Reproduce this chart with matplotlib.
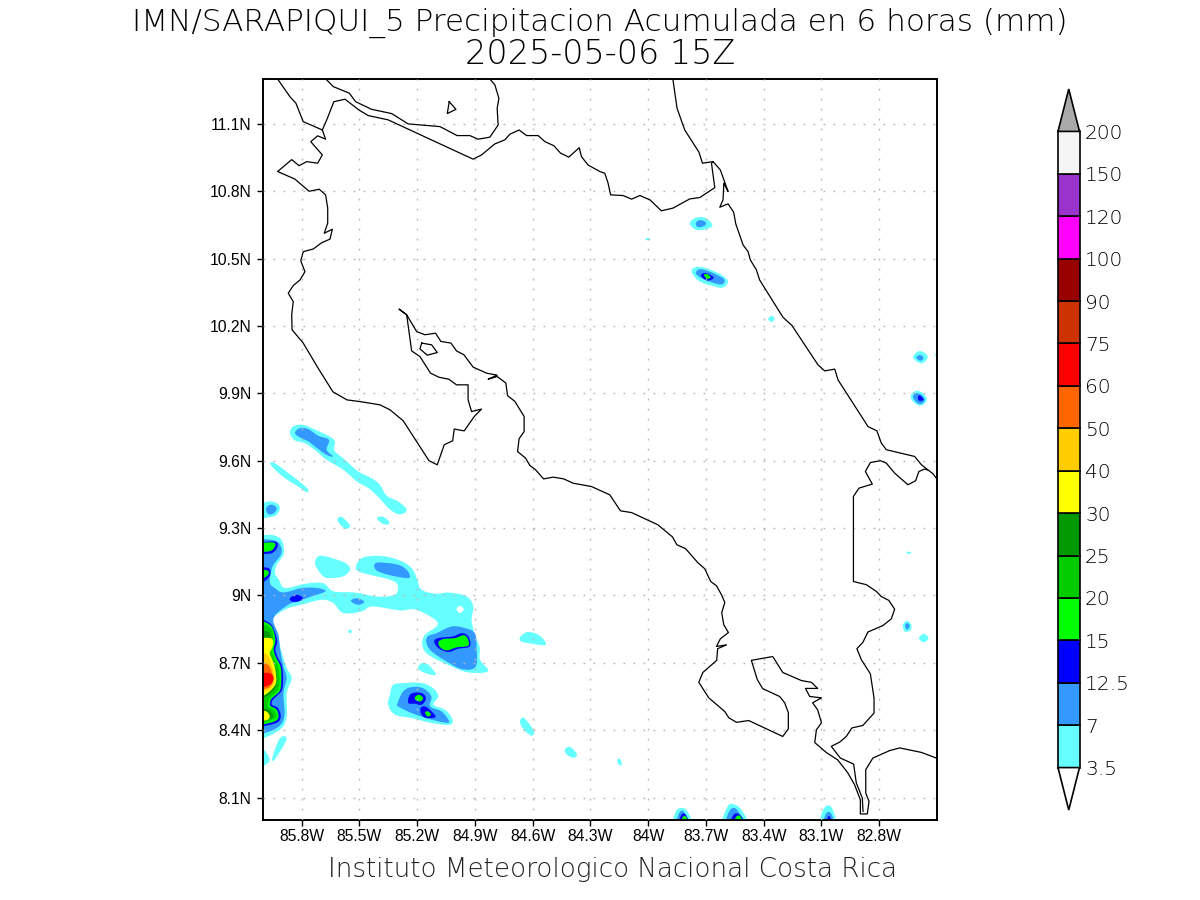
import numpy as np
from matplotlib import pyplot as plt

# everything in degrees west / degrees north
coast_pacific = [(85.921,11.296),(85.860,11.221),(85.829,11.192),(85.791,11.110),(85.692,11.073),(85.675,11.032),(85.716,11.047),(85.752,11.021),
    (85.692,10.962),(85.716,10.925),(85.773,10.932),(85.813,10.914),(85.851,10.941),(85.924,10.888),(85.834,10.854),(85.761,10.800),(85.708,10.809),
    (85.675,10.784),(85.664,10.725),(85.664,10.658),(85.682,10.613),(85.640,10.631),(85.652,10.587),(85.695,10.571),(85.739,10.543),(85.791,10.531),
    (85.804,10.490),(85.782,10.442),(85.808,10.405),(85.843,10.380),(85.869,10.346),(85.843,10.309),(85.851,10.250),(85.849,10.183),(85.792,10.125),
    (85.715,10.014),(85.637,9.907),(85.564,9.871),(85.486,9.862),(85.393,9.849),(85.341,9.827),(85.272,9.778),(85.138,9.600),(85.095,9.582),
    (85.059,9.671),(85.015,9.689),(85.007,9.741),(84.955,9.733),(84.903,9.797),(84.865,9.830),(84.917,9.819),(84.935,9.871),(84.935,9.938),
    (84.995,9.938),(85.035,9.963),(85.087,9.972),(85.130,9.990),(85.185,10.064),(85.228,10.089),(85.254,10.250),(85.293,10.275),(85.254,10.250),
    (85.202,10.175),(85.159,10.161),(85.104,10.168),(85.076,10.131),(85.024,10.124),(84.995,10.089),(84.957,10.072),(84.909,10.017),(84.839,9.990),
    (84.784,9.981),(84.831,9.963),(84.784,9.975),(84.739,9.946),(84.730,9.890),(84.692,9.864),(84.644,9.797),(84.644,9.730),(84.670,9.698),
    (84.678,9.641),(84.637,9.612),(84.614,9.579),(84.585,9.560),(84.543,9.519),(84.493,9.527),(84.438,9.519),(84.390,9.500),(84.294,9.485),
    (84.199,9.448),(84.144,9.377),(84.086,9.369),(83.950,9.315),(83.874,9.261),(83.851,9.226),(83.805,9.208),(83.742,9.146),(83.706,9.119),
    (83.675,9.062),(83.645,9.043),(83.619,9.003),(83.602,8.969),(83.618,8.923),(83.607,8.869),(83.583,8.835),(83.625,8.807),(83.645,8.773),
    (83.593,8.780),(83.639,8.763),(83.644,8.711),(83.716,8.657),(83.737,8.613),(83.685,8.544),(83.602,8.483),(83.581,8.455),(83.541,8.435),
    (83.478,8.443),(83.301,8.372),(83.272,8.406),(83.272,8.478),(83.291,8.522),(83.317,8.550),(83.405,8.585),(83.433,8.625),(83.464,8.711),
    (83.353,8.728),(83.301,8.657),(83.204,8.621),(83.152,8.613),(83.120,8.586),(83.183,8.586),(83.161,8.550),(83.100,8.544),(83.146,8.522),
    (83.120,8.491),(83.100,8.433),(83.126,8.402),(83.135,8.345),(83.074,8.300),(83.016,8.268),(82.964,8.211),(82.928,8.157),(82.898,8.090),
    (82.898,8.027),(82.862,8.027),(82.853,8.083),(82.870,8.120),(82.870,8.224),(82.833,8.276),(82.746,8.309),(82.694,8.321),(82.581,8.301),(82.504,8.276)]

border_north = [(85.692,11.073),(85.669,11.118),(85.632,11.199),(85.574,11.210),(85.502,11.162),(85.453,11.137),(85.350,11.118),(84.909,10.943),
    (84.865,10.962),(84.796,11.011),(84.744,11.029),(84.718,11.054),(84.670,11.073),(84.631,11.048),(84.571,11.048),(84.536,11.021),(84.490,11.003),
    (84.455,10.970),(84.412,10.952),(84.358,10.994),(84.346,10.954),(84.312,10.917),(84.251,10.888),(84.225,10.880),(84.208,10.836),(84.195,10.784),
    (84.130,10.781),(84.086,10.765),(84.043,10.781),(83.991,10.762),(83.931,10.713),(83.871,10.725),(83.784,10.766),(83.732,10.772),(83.654,10.816),
    (83.671,10.925),(83.663,10.932)]

coast_caribbean = [(83.871,11.296),(83.850,11.170),(83.810,11.073),(83.736,10.974),(83.718,10.925),(83.663,10.932),(83.625,10.895),(83.585,10.799),
    (83.607,10.836),(83.611,10.762),(83.628,10.729),(83.585,10.744),(83.556,10.707),(83.545,10.655),(83.507,10.561),(83.481,10.531),(83.469,10.494),
    (83.438,10.450),(83.421,10.405),(83.300,10.239),(83.253,10.202),(83.118,10.027),(83.083,10.000),(83.031,10.008),(83.014,9.960),(82.858,9.752),
    (82.812,9.733),(82.789,9.678),(82.763,9.649),(82.616,9.619),(82.581,9.582),(82.521,9.542),(82.504,9.523)]

border_south = [(82.549,9.559),(82.564,9.563),(82.594,9.552),(82.611,9.511),(82.651,9.493),(82.720,9.545),(82.763,9.589),(82.793,9.600),(82.846,9.592),
    (82.872,9.552),(82.836,9.496),(82.905,9.478),(82.934,9.441),(82.934,9.062),(82.867,9.048),(82.815,9.018),(82.789,8.995),(82.750,8.978),(82.720,8.939),
    (82.737,8.896),(82.781,8.866),(82.859,8.837),(82.885,8.791),(82.916,8.763),(82.893,8.714),(82.846,8.651),(82.827,8.543),(82.827,8.476),(82.885,8.421),
    (82.942,8.410),(82.971,8.372),(83.005,8.347),(83.049,8.328),(83.002,8.276),(82.933,8.249),(82.919,8.165),(82.888,8.098),(82.884,8.038)]

lake_nicaragua = [(85.669,11.296),(85.635,11.266),(85.552,11.237),(85.519,11.199),(85.436,11.165),(85.332,11.146),(85.246,11.100),(85.081,11.088),
    (84.992,11.048),(84.926,11.048),(84.883,11.032),(84.822,11.041),(84.779,11.095),(84.784,11.170),(84.775,11.214),(84.796,11.274),(84.818,11.296)]
island_lake = [(85.033,11.199),(84.998,11.165),(85.043,11.146),(85.033,11.199)]
island_gulf = [(85.176,10.124),(85.124,10.116),(85.095,10.082),(85.147,10.070),(85.185,10.098),(85.176,10.124)]
coast_lines = [coast_pacific, border_north, coast_caribbean, border_south, lake_nicaragua, island_lake, island_gulf]

# 3.5 - 7 mm
rain_3p5 = [
    [(85.860,9.723),(85.843,9.753),(85.791,9.760),(85.721,9.735),(85.661,9.711),(85.626,9.686),(85.630,9.646),(85.574,9.604),(85.505,9.552),(85.436,9.522),
     (85.393,9.493),(85.358,9.444),(85.298,9.419),(85.254,9.384),(85.272,9.364),(85.306,9.364),(85.349,9.389),(85.401,9.438),(85.453,9.478),(85.514,9.508),
     (85.583,9.560),(85.670,9.604),(85.721,9.641),(85.782,9.678),(85.834,9.690)],
    [(85.964,9.589),(85.938,9.589),(85.868,9.545),(85.799,9.500),(85.765,9.471),(85.773,9.460),(85.817,9.485),(85.886,9.522),(85.938,9.560)],
    [(86.03,9.404),(85.972,9.419),(85.929,9.411),(85.912,9.389),(85.929,9.359),(85.964,9.349),(86.03,9.340)],
    [(85.612,9.344),(85.588,9.349),(85.548,9.310),(85.571,9.297),(85.606,9.322)],
    [(85.408,9.344),(85.381,9.352),(85.346,9.330),(85.353,9.315),(85.384,9.322)],
    [(86.03,9.266),(85.955,9.270),(85.912,9.255),(85.894,9.226),(85.894,9.181),(85.929,9.137),(85.938,9.100),(85.917,9.070),(85.886,9.033),(85.782,9.052),
     (85.687,9.055),(85.635,9.018),(85.523,9.013),(85.419,8.996),(85.350,8.996),(85.306,9.010),(85.301,9.048),(85.341,9.070),(85.445,9.092),(85.505,9.107),
     (85.517,9.129),(85.488,9.166),(85.401,9.177),(85.298,9.159),(85.228,9.122),(85.199,9.070),(85.177,9.025),(85.099,9.007),(85.038,9.013),(84.943,8.996),
     (84.908,8.951),(84.917,8.892),(84.900,8.825),(84.874,8.766),(84.874,8.714),(84.830,8.662),(84.934,8.657),(85.021,8.684),(85.142,8.736),(85.173,8.780),
     (85.159,8.825),(85.090,8.877),(85.202,8.936),(85.280,8.933),(85.332,8.939),(85.436,8.951),(85.488,8.929),(85.583,8.921),(85.635,8.966),(85.696,8.981),
     (85.799,8.959),(85.868,8.944),(85.929,8.914),(85.955,8.884),(85.924,8.832),(85.907,8.758),(85.877,8.677),(85.851,8.632),(85.877,8.565),(85.877,8.461),
     (85.912,8.402),(86.03,8.354)],
    [(85.730,9.151),(85.704,9.177),(85.626,9.162),(85.566,9.141),(85.548,9.114),(85.583,9.085),(85.652,9.077),(85.687,9.085),(85.721,9.122)],
    [(85.194,8.681),(85.177,8.699),(85.151,8.696),(85.125,8.677),(85.102,8.647),(85.142,8.650),(85.185,8.666)],
    [(85.324,8.602),(85.263,8.610),(85.177,8.610),(85.116,8.587),(85.090,8.550),(85.116,8.513),(85.055,8.491),(85.017,8.450),(85.029,8.424),(85.125,8.432),
     (85.228,8.454),(85.315,8.469),(85.350,8.513),(85.341,8.558)],
    [(85.912,8.365),(85.877,8.360),(85.938,8.271),(85.952,8.276)],
    [(86.03,8.342),(85.964,8.268),(86.03,8.231)],
    [(85.555,8.846),(85.541,8.846),(85.541,8.834),(85.555,8.834)],
    [(84.666,8.812),(84.625,8.838),(84.562,8.820),(84.531,8.780),(84.604,8.785),(84.656,8.794)],
    [(84.666,8.438),(84.645,8.455),(84.594,8.398),(84.604,8.375),(84.645,8.402)],
    [(84.433,8.313),(84.407,8.326),(84.370,8.295),(84.386,8.277),(84.422,8.291)],
    [(84.161,8.268),(84.144,8.271),(84.137,8.246),(84.151,8.246)],
    [(83.784,10.655),(83.758,10.680),(83.706,10.683),(83.666,10.650),(83.697,10.632),(83.749,10.628)],
    [(84.012,10.591),(83.992,10.591),(83.992,10.583),(84.012,10.583)],
    [(83.775,10.442),(83.749,10.463),(83.697,10.457),(83.620,10.428),(83.585,10.398),(83.611,10.371),(83.654,10.376),(83.732,10.398)],
    [(83.377,10.232),(83.360,10.245),(83.343,10.232),(83.360,10.218)],
    [(82.625,10.060),(82.590,10.089),(82.547,10.064),(82.581,10.033)],
    [(82.512,10.071),(82.48,10.083),(82.48,10.060)],
    [(82.637,9.886),(82.611,9.911),(82.573,9.901),(82.552,9.871),(82.581,9.846),(82.616,9.856)],
    [(82.656,9.194),(82.637,9.194),(82.637,9.187),(82.656,9.187)],
    [(82.677,8.869),(82.656,8.887),(82.633,8.869),(82.639,8.844),(82.668,8.840)],
    [(82.594,8.810),(82.569,8.829),(82.544,8.810),(82.569,8.791)],
    [(83.867,7.98),(83.853,8.043),(83.818,8.053),(83.793,8.034),(83.774,7.98)],
    [(83.611,7.98),(83.585,8.064),(83.550,8.068),(83.516,8.046),(83.485,7.98)],
    [(83.104,7.98),(83.095,8.038),(83.071,8.064),(83.045,8.053),(83.026,7.98)],
]
rain_hole = [(84.995,8.939),(84.978,8.954),(84.957,8.939),(84.978,8.921)]

# 7 - 12.5 mm
rain_7 = [
    [(85.834,9.726),(85.808,9.745),(85.765,9.741),(85.713,9.711),(85.657,9.693),(85.670,9.649),(85.635,9.619),(85.670,9.626),(85.713,9.652),(85.765,9.686),(85.817,9.708)],
    [(85.984,9.389),(85.964,9.404),(85.938,9.399),(85.929,9.381),(85.952,9.362),(85.976,9.364)],
    [(85.422,9.137),(85.393,9.147),(85.298,9.137),(85.254,9.114),(85.237,9.088),(85.254,9.077),(85.350,9.092),(85.410,9.111)],
    [(85.543,8.978),(85.514,8.988),(85.474,8.973),(85.497,8.959),(85.526,8.963)],
    [(86.03,9.251),(85.938,9.245),(85.907,9.218),(85.907,9.181),(85.946,9.137),(85.959,9.100),(85.964,9.055),(85.938,9.033),(85.894,9.013),(85.799,9.033),
     (85.713,9.033),(85.675,9.018),(85.747,8.996),(85.817,8.973),(85.868,8.959),(85.946,8.899),(85.920,8.825),(85.912,8.766),(85.894,8.684),(85.877,8.632),
     (85.894,8.565),(85.889,8.461),(85.929,8.409),(86.03,8.380)],
    [(85.145,8.818),(85.099,8.832),(85.021,8.862),(84.952,8.855),(84.900,8.832),(84.891,8.766),(84.896,8.681),(84.969,8.672),(85.047,8.706),(85.125,8.751),(85.151,8.788)],
    [(85.272,8.573),(85.228,8.592),(85.168,8.587),(85.125,8.550),(85.133,8.506),(85.073,8.484),(85.038,8.447),(85.042,8.432),(85.125,8.447),(85.228,8.476),(85.298,8.506),(85.301,8.521)],
    [(83.753,10.658),(83.732,10.672),(83.701,10.662),(83.706,10.647),(83.741,10.640)],
    [(83.753,10.435),(83.732,10.453),(83.680,10.442),(83.607,10.410),(83.614,10.386),(83.654,10.390),(83.723,10.413)],
    [(82.608,10.060),(82.587,10.071),(82.570,10.057),(82.587,10.045)],
    [(82.625,9.886),(82.607,9.901),(82.576,9.890),(82.564,9.867),(82.587,9.852),(82.611,9.864)],
    [(82.666,8.865),(82.654,8.877),(82.642,8.865),(82.654,8.847)],
    [(83.850,7.98),(83.839,8.031),(83.815,8.038),(83.793,7.98)],
    [(83.594,7.98),(83.576,8.043),(83.542,8.049),(83.507,7.98)],
    [(83.088,7.98),(83.075,8.031),(83.049,8.028),(83.037,7.98)],
]

# 12.5 - 15 mm
rain_12p5 = [
    [(86.03,9.236),(85.938,9.240),(85.924,9.218),(85.955,9.188),(86.03,9.186)],
    [(86.03,9.126),(85.972,9.122),(85.962,9.097),(85.981,9.070),(86.03,9.048)],
    [(85.860,8.988),(85.825,9.003),(85.791,8.988),(85.817,8.973),(85.851,8.973)],
    [(86.03,8.899),(85.965,8.877),(85.940,8.840),(85.926,8.795),(85.936,8.758),(85.922,8.721),(85.901,8.684),(85.896,8.617),(85.905,8.573),(85.948,8.536),
     (85.953,8.513),(85.922,8.499),(85.908,8.461),(85.931,8.432),(86.03,8.414)],
    [(85.111,8.795),(85.090,8.810),(85.012,8.818),(84.969,8.832),(84.934,8.818),(84.926,8.773),(84.986,8.763),(85.038,8.748),(85.090,8.766)],
    [(85.237,8.558),(85.202,8.568),(85.168,8.562),(85.154,8.539),(85.177,8.513),(85.211,8.518),(85.246,8.521)],
    [(85.182,8.498),(85.159,8.506),(85.125,8.484),(85.104,8.458),(85.151,8.454),(85.177,8.469)],
    [(83.725,10.428),(83.701,10.436),(83.659,10.416),(83.689,10.402),(83.715,10.413)],
    [(82.599,9.886),(82.587,9.890),(82.569,9.871),(82.594,9.868)],
    [(83.839,7.98),(83.827,8.024),(83.805,8.024),(83.787,7.98)],
    [(83.568,7.98),(83.556,8.024),(83.524,8.024),(83.498,7.98)],
    [(83.075,7.98),(83.061,8.019),(83.045,7.98)],
]

# 15 - 20 mm
rain_15 = [
    [(86.03,9.233),(85.946,9.236),(85.938,9.218),(85.964,9.197),(86.03,9.194)],
    [(86.03,9.114),(85.976,9.111),(85.976,9.089),(86.03,9.067)],
    [(86.03,8.892),(85.965,8.870),(85.943,8.835),(85.936,8.795),(85.945,8.758),(85.931,8.721),(85.908,8.681),(85.905,8.617),(85.914,8.573),(85.957,8.539),
     (85.962,8.509),(85.931,8.494),(85.919,8.461),(85.940,8.439),(86.03,8.421)],
    [(85.090,8.791),(85.064,8.806),(85.003,8.810),(84.960,8.823),(84.938,8.810),(84.934,8.776),(84.995,8.769),(85.042,8.755),(85.076,8.766)],
    [(85.211,8.547),(85.190,8.558),(85.168,8.543),(85.182,8.528),(85.206,8.533)],
    [(85.159,8.479),(85.142,8.484),(85.128,8.469),(85.145,8.461)],
    [(83.711,10.428),(83.694,10.431),(83.675,10.417),(83.694,10.410)],
    [(83.831,7.98),(83.818,8.016),(83.801,8.012),(83.793,7.98)],
    [(83.554,7.98),(83.542,8.016),(83.521,8.016),(83.507,7.98)],
]

# 20 and up, only on the left edge
rain_20 = [[(86.03,8.877),(85.965,8.859),(85.948,8.825),(85.946,8.788),(85.957,8.758),(85.940,8.714),(85.919,8.677),(85.914,8.617),(85.922,8.580),(85.965,8.543),
            (85.974,8.506),(85.943,8.488),(85.931,8.461),(85.953,8.447),(86.03,8.429)]]
rain_25 = [[(86.03,8.840),(85.974,8.840),(85.960,8.810),(85.964,8.780),(85.974,8.751),(85.953,8.706),(85.933,8.669),(85.927,8.617),(85.940,8.583),(85.983,8.550),(86.03,8.528)],
           [(86.03,8.499),(85.971,8.491),(85.948,8.464),(85.964,8.450),(86.03,8.436)]]
rain_30 = [[(86.03,8.810),(85.960,8.810),(85.946,8.788),(85.957,8.758),(85.965,8.743),(85.948,8.706),(85.936,8.669),(85.931,8.617),(85.948,8.588),(85.988,8.558),(86.03,8.547)],
           [(86.03,8.484),(85.983,8.484),(85.965,8.459),(85.983,8.444),(86.03,8.444)]]
rain_40 = [[(86.03,8.743),(85.978,8.736),(85.957,8.691),(85.943,8.654),(85.943,8.610),(85.965,8.583),(86.03,8.562)]]
rain_50 = [[(86.03,8.706),(85.974,8.691),(85.953,8.654),(85.948,8.617),(85.974,8.588),(86.03,8.580)]]
rain_60 = [[(86.03,8.654),(85.965,8.654),(85.945,8.632),(85.965,8.602),(86.03,8.588)]]

rain_layers = [rain_3p5, [rain_hole], rain_7, rain_12p5, rain_15, rain_20, rain_25, rain_30, rain_40, rain_50, rain_60]
rain_colors = ['#66ffff', 'white', '#3399ff', '#0000ff', '#00ff00', '#00cc00', '#009900', '#ffff00', '#ffcc00', '#ff6600', '#ff0000']

bar_labels = ['3.5', '7', '12.5', '15', '20', '25', '30', '40', '50', '60', '75', '90', '100', '120', '150', '200']
bar_colors = ['#66ffff', '#3399ff', '#0000ff', '#00ff00', '#00cc00', '#009900', '#ffff00', '#ffcc00', '#ff6600', '#ff0000',
              '#cc3300', '#990000', '#ff00ff', '#9933cc', '#f5f5f5']
lon_ticks = [85.8, 85.5, 85.2, 84.9, 84.6, 84.3, 84.0, 83.7, 83.4, 83.1, 82.8]
lon_labels = ['85.8W', '85.5W', '85.2W', '84.9W', '84.6W', '84.3W', '84W', '83.7W', '83.4W', '83.1W', '82.8W']
lat_ticks = [8.1, 8.4, 8.7, 9.0, 9.3, 9.6, 9.9, 10.2, 10.5, 10.8, 11.1]
lat_labels = ['8.1N', '8.4N', '8.7N', '9N', '9.3N', '9.6N', '9.9N', '10.2N', '10.5N', '10.8N', '11.1N']


def smooth(points):
	# closed catmull-rom through the outline points, the raw outlines look too angular
	p = np.array(points)
	# patches cut by the left edge: run off the map so the curve does not bulge there
	if p[0, 0] == 86.03:
		p = np.vstack(([86.1, p[0, 1]], p, [86.1, p[-1, 1]]))
	p0, p2, p3 = np.roll(p, 1, axis=0), np.roll(p, -1, axis=0), np.roll(p, -2, axis=0)
	out = []
	for i in range(len(p)):
		for t in (0, 0.25, 0.5, 0.75):
			out.append(0.5*(2*p[i] + (p2[i]-p0[i])*t + (2*p0[i]-5*p[i]+4*p2[i]-p3[i])*t**2 + (3*p[i]-p0[i]-3*p2[i]+p3[i])*t**3))
	return np.array(out)


fig = plt.figure(figsize=(12, 9), dpi=100)
ax = fig.add_axes([263/1200, 80/900, 674/1200, 741/900])
ax.set_xlim(-86.0, -82.5)
ax.set_ylim(8.0, 11.3)

for layer, color in zip(rain_layers, rain_colors):
	for patch in layer:
		p = smooth(patch)
		ax.fill(-p[:, 0], p[:, 1], color=color, lw=0, zorder=1)

ax.set_xticks([-x for x in lon_ticks])
ax.set_xticklabels(lon_labels, fontsize=11.3, family='Liberation Sans')
ax.set_yticks(lat_ticks)
ax.set_yticklabels(lat_labels, fontsize=11.3, family='Liberation Sans')
ax.xaxis.set_tick_params(length=4.5, width=1, pad=2)
ax.yaxis.set_tick_params(length=4.5, width=1, pad=4)
ax.grid(True, color='#b4b4b4', lw=1.0, linestyle=(0, (1.3, 5.9)), zorder=2)
ax.set_axisbelow(False)

for line in coast_lines:
	c = np.array(line)
	ax.plot(-c[:, 0], c[:, 1], color='black', lw=0.9, zorder=3)

for s in ax.spines.values():
	s.set_linewidth(1.4)

# colour bar, one unit per box
cax = fig.add_axes([1058/1200, 90/900, 21.5/1200, 721/900])
cax.set_xlim(0, 1)
cax.set_ylim(-1, 16)
for i, color in enumerate(bar_colors):
	cax.bar(0.5, 1, width=1, bottom=i, color=color, edgecolor='black', lw=1.2, clip_on=False)
cax.fill([0, 1, 0.5], [15, 15, 16], facecolor='#aaaaaa', edgecolor='black', lw=1.2, clip_on=False)
cax.fill([0, 1, 0.5], [0, 0, -1], facecolor='white', edgecolor='black', lw=1.2, clip_on=False)
for s in cax.spines.values():
	s.set_visible(False)
cax.set_xticks([])
cax.yaxis.tick_right()
cax.set_yticks(range(len(bar_labels)))
cax.set_yticklabels(bar_labels, fontsize=14.5, color='black')
cax.yaxis.set_tick_params(length=0, pad=4)
for t in cax.get_yticklabels():
	t.set_fontweight('light')

fig.text(600/1200, 1-23/900, 'IMN/SARAPIQUI_5 Precipitacion Acumulada en 6 horas (mm)', ha='center', va='center', fontsize=22.4, weight='light', color='black')
fig.text(600/1200, 1-54/900, '2025-05-06 15Z', ha='center', va='center', fontsize=24, weight='light', color='black')
fig.text(613/1200, 1-869/900, 'Instituto Meteorologico Nacional Costa Rica', ha='center', va='center', fontsize=18.8, weight='light', color='#222222')

plt.savefig('out.png')
